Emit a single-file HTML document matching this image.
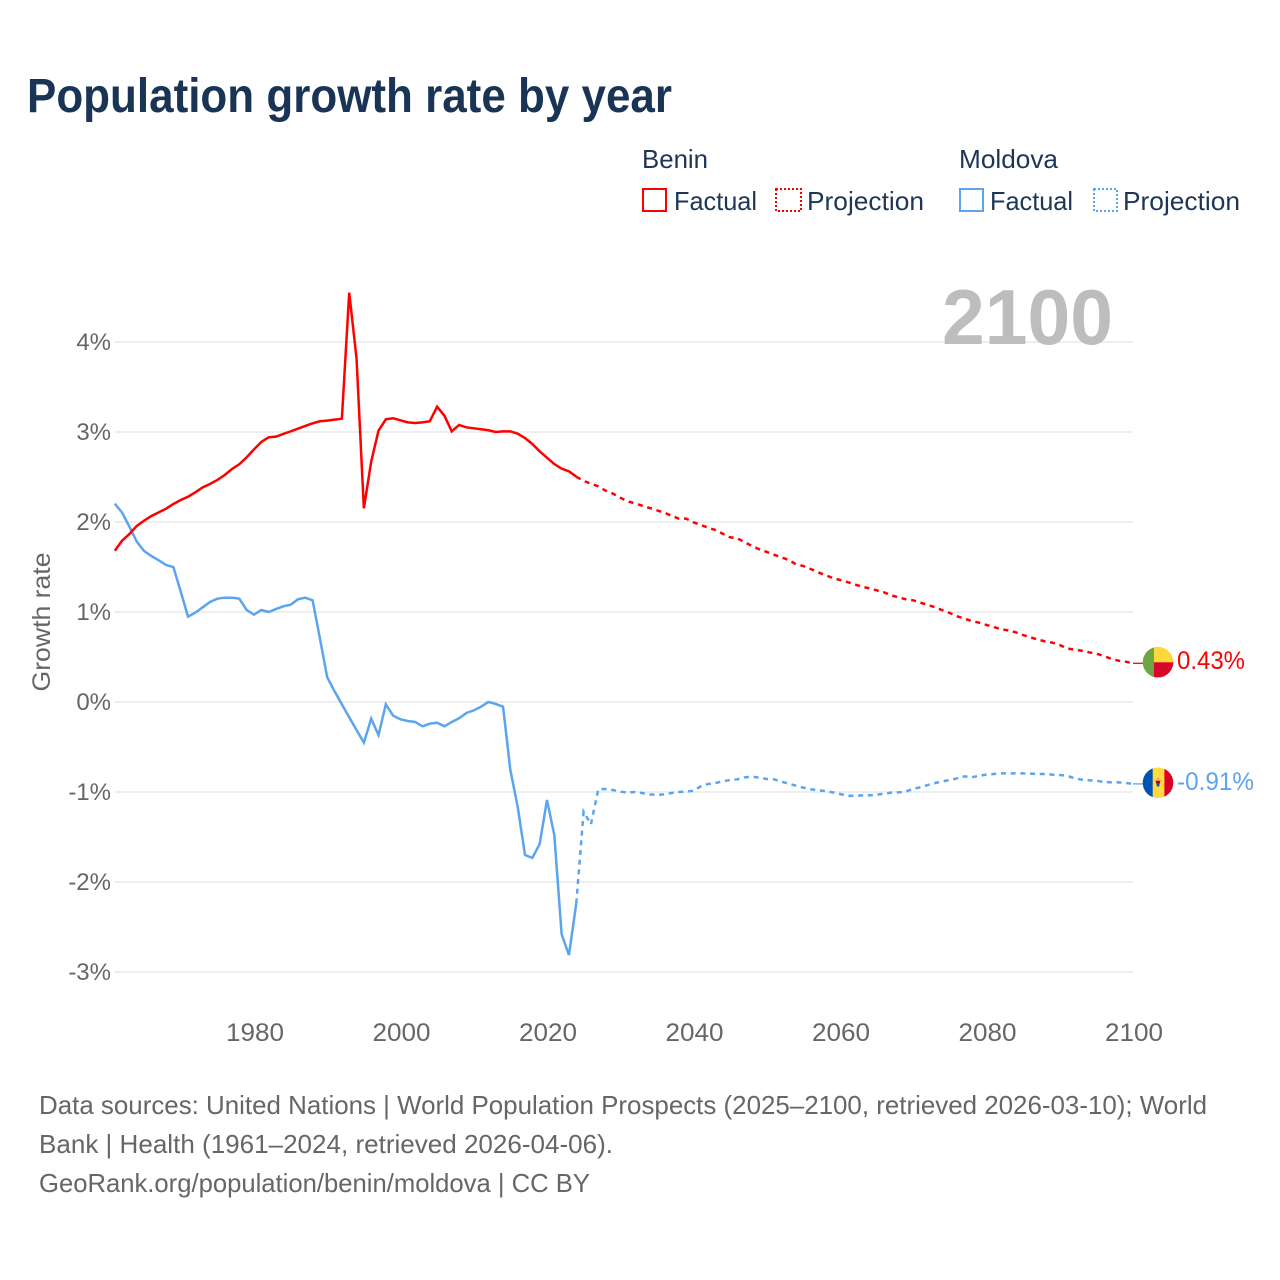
<!DOCTYPE html>
<html lang="en">
<head>
<meta charset="utf-8">
<title>Population growth rate by year</title>
<style>
html,body{margin:0;padding:0;background:#fff;}
svg{display:block;font-family:"Liberation Sans",sans-serif;}
</style>
</head>
<body>
<svg id="chart" xmlns="http://www.w3.org/2000/svg" width="1280" height="1280" viewBox="0 0 1280 1280">
  <defs>
    <clipPath id="flag-clip-benin"><circle cx="1158" cy="662.2" r="15.3"/></clipPath>
    <clipPath id="flag-clip-moldova"><circle cx="1158" cy="782.8" r="15.3"/></clipPath>
  </defs>
  <rect width="1280" height="1280" fill="#fff"/>
  <text x="27" y="112" font-size="48" font-weight="700" fill="#1a3455" textLength="645" lengthAdjust="spacingAndGlyphs">Population growth rate by year</text>

  <g font-size="26" fill="#1e3655">
    <text x="642" y="168" textLength="66" lengthAdjust="spacingAndGlyphs">Benin</text>
    <rect x="643" y="189" width="23" height="22" fill="none" stroke="#ff0000" stroke-width="2"/>
    <text x="674" y="210" textLength="83" lengthAdjust="spacingAndGlyphs">Factual</text>
    <rect x="776" y="189" width="25" height="22" fill="none" stroke="#ff0000" stroke-width="2" stroke-dasharray="2 2"/>
    <text x="807" y="210" textLength="117" lengthAdjust="spacingAndGlyphs">Projection</text>
    <text x="959" y="168" textLength="99" lengthAdjust="spacingAndGlyphs">Moldova</text>
    <rect x="960" y="189" width="23" height="22" fill="none" stroke="#5ba4ee" stroke-width="2"/>
    <text x="990" y="210" textLength="83" lengthAdjust="spacingAndGlyphs">Factual</text>
    <rect x="1094" y="189" width="23" height="22" fill="none" stroke="#5ba4ee" stroke-width="2" stroke-dasharray="2 2"/>
    <text x="1123" y="210" textLength="117" lengthAdjust="spacingAndGlyphs">Projection</text>
  </g>

  <g id="grid"></g>
  <text x="942" y="344" font-size="78" font-weight="700" fill="#bdbdbd" textLength="171" lengthAdjust="spacingAndGlyphs">2100</text>
  <g id="y-ticks" font-size="24" fill="#666" text-anchor="end"></g>
  <g id="x-ticks" font-size="25" fill="#666" text-anchor="middle"></g>
  <text transform="translate(50,622) rotate(-90)" font-size="25" fill="#666" text-anchor="middle" textLength="139" lengthAdjust="spacingAndGlyphs">Growth rate</text>
  <g id="series"></g>

  <g clip-path="url(#flag-clip-benin)">
    <rect x="1142" y="646" width="32" height="32" fill="#fcd83a"/>
    <rect x="1154" y="662.3" width="20" height="16" fill="#d8062a"/>
    <rect x="1142" y="646" width="12" height="32" fill="#6da544"/>
  </g>
  <text x="1177" y="669" font-size="25" fill="#ff0000" textLength="68" lengthAdjust="spacingAndGlyphs">0.43%</text>

  <g clip-path="url(#flag-clip-moldova)">
    <rect x="1142" y="767" width="32" height="32" fill="#ffda44"/>
    <rect x="1142" y="767" width="10.7" height="32" fill="#0052b4"/>
    <rect x="1164.4" y="767" width="10" height="32" fill="#d80027"/>
    <polygon points="1158,777 1159.500,780 1162,780 1160,782.500 1158,788 1156,782.500 1154,780 1156.500,780" fill="#e8a33a"/>
    <rect x="1156" y="781" width="4" height="2.500" fill="#a2001d"/>
    <circle cx="1158" cy="785" r="1.500" fill="#0052b4"/>
  </g>
  <text x="1177" y="790" font-size="25" fill="#5ba4ee" textLength="77" lengthAdjust="spacingAndGlyphs">-0.91%</text>

  <g font-size="26" fill="#666">
    <text x="39" y="1114" textLength="1168" lengthAdjust="spacingAndGlyphs">Data sources: United Nations | World Population Prospects (2025–2100, retrieved 2026-03-10); World</text>
    <text x="39" y="1153" textLength="574" lengthAdjust="spacingAndGlyphs">Bank | Health (1961–2024, retrieved 2026-04-06).</text>
    <text x="39" y="1192" textLength="551" lengthAdjust="spacingAndGlyphs">GeoRank.org/population/benin/moldova | CC BY</text>
  </g>
</svg>
<script>
const factualFirstYear = 1961;
const projectionFirstYear = 2025;
const yTickValues = [4, 3, 2, 1, 0, -1, -2, -3];
const yTickLabels = ["4%", "3%", "2%", "1%", "0%", "-1%", "-2%", "-3%"];
const xTickValues = [1980, 2000, 2020, 2040, 2060, 2080, 2100];
const xTickLabels = ["1980", "2000", "2020", "2040", "2060", "2080", "2100"];

const beninFactual = [1.681,1.793,1.867,1.956,2.015,2.067,2.107,2.148,2.2,2.244,2.281,2.33,2.385,2.422,2.467,2.522,2.589,2.641,2.719,2.807,2.889,2.941,2.948,2.978,3.007,3.037,3.067,3.096,3.119,3.126,3.137,3.148,4.548,3.819,2.152,2.67,3.015,3.141,3.152,3.13,3.107,3.1,3.107,3.119,3.281,3.181,3.007,3.078,3.052,3.041,3.03,3.019,3.0,3.007,3.007,2.981,2.933,2.867,2.785,2.715,2.644,2.593,2.563,2.504];
const beninProjection = [2.456,2.426,2.396,2.348,2.315,2.27,2.23,2.207,2.181,2.156,2.13,2.104,2.07,2.037,2.037,1.996,1.967,1.937,1.911,1.87,1.83,1.819,1.774,1.733,1.696,1.667,1.637,1.607,1.578,1.53,1.511,1.478,1.441,1.411,1.378,1.356,1.333,1.307,1.281,1.263,1.241,1.219,1.185,1.163,1.141,1.13,1.104,1.078,1.052,1.019,0.989,0.952,0.926,0.9,0.881,0.856,0.833,0.808,0.796,0.774,0.744,0.719,0.693,0.674,0.659,0.633,0.596,0.581,0.57,0.552,0.537,0.511,0.481,0.459,0.448,0.43];
const moldovaFactual = [2.204,2.104,1.948,1.781,1.678,1.622,1.574,1.522,1.5,1.226,0.948,0.993,1.052,1.111,1.148,1.159,1.159,1.148,1.022,0.97,1.022,1.0,1.033,1.063,1.081,1.141,1.159,1.13,0.707,0.274,0.119,-0.026,-0.17,-0.311,-0.452,-0.185,-0.367,-0.026,-0.152,-0.193,-0.211,-0.222,-0.27,-0.241,-0.23,-0.27,-0.222,-0.181,-0.122,-0.093,-0.052,0,-0.022,-0.052,-0.756,-1.163,-1.7,-1.733,-1.578,-1.089,-1.478,-2.581,-2.811,-2.237];
const moldovaProjection = [-1.219,-1.359,-0.97,-0.967,-0.978,-0.996,-1.007,-1.0,-1.011,-1.026,-1.033,-1.026,-1.011,-1.0,-0.996,-0.985,-0.937,-0.911,-0.9,-0.881,-0.867,-0.859,-0.837,-0.83,-0.841,-0.856,-0.859,-0.885,-0.907,-0.93,-0.952,-0.97,-0.981,-0.989,-1.004,-1.022,-1.041,-1.044,-1.037,-1.037,-1.03,-1.019,-1.007,-1.004,-0.996,-0.963,-0.948,-0.922,-0.9,-0.881,-0.867,-0.848,-0.826,-0.837,-0.819,-0.807,-0.8,-0.793,-0.793,-0.793,-0.793,-0.796,-0.8,-0.8,-0.807,-0.811,-0.819,-0.848,-0.863,-0.87,-0.874,-0.889,-0.893,-0.893,-0.9,-0.91];

const SVG_NS = "http://www.w3.org/2000/svg";
const plotLeft = 114.8, plotRight = 1133, yearMin = 1961, yearMax = 2100;
const zeroY = 702, pxPerPercent = 90;

function xScale(year) {
  return plotLeft + (year - yearMin) * (plotRight - plotLeft) / (yearMax - yearMin);
}
function yScale(value) {
  return zeroY - value * pxPerPercent;
}
function linePath(firstYear, values) {
  return values.map(function (v, i) {
    return (i ? "L" : "M") + xScale(firstYear + i).toFixed(2) + " " + yScale(v).toFixed(2);
  }).join("");
}
function drawLine(name, firstYear, values, color, dashed) {
  const p = document.createElementNS(SVG_NS, "path");
  
  
  p.setAttribute("d", linePath(firstYear, values));
  p.setAttribute("fill", "none");
  p.setAttribute("stroke", color);
  p.setAttribute("stroke-width", "2.5");
  p.setAttribute("stroke-linejoin", "miter");
  if (dashed) p.setAttribute("stroke-dasharray", "5 4.7");
  document.getElementById("series").appendChild(p);
}
function drawLeader(name, lastValue, color) {
  const l = document.createElementNS(SVG_NS, "line");
  
  
  l.setAttribute("x1", xScale(yearMax));
  l.setAttribute("x2", xScale(yearMax) + 10);
  l.setAttribute("y1", yScale(lastValue));
  l.setAttribute("y2", yScale(lastValue));
  l.setAttribute("stroke", color);
  l.setAttribute("stroke-width", "1.3");
  document.getElementById("series").appendChild(l);
}

yTickValues.forEach(function (v, i) {
  const g = document.createElementNS(SVG_NS, "line");
  
  
  g.setAttribute("x1", plotLeft);
  g.setAttribute("x2", plotRight);
  g.setAttribute("y1", yScale(v));
  g.setAttribute("y2", yScale(v));
  g.setAttribute("stroke", "#eeeeee");
  g.setAttribute("stroke-width", "2");
  document.getElementById("grid").appendChild(g);

  const t = document.createElementNS(SVG_NS, "text");
  
  
  t.setAttribute("x", 111);
  t.setAttribute("y", yScale(v) + 8);
  t.textContent = yTickLabels[i];
  document.getElementById("y-ticks").appendChild(t);
});

xTickValues.forEach(function (v, i) {
  const t = document.createElementNS(SVG_NS, "text");
  
  
  t.setAttribute("x", xScale(v) + 1);
  t.setAttribute("y", 1041);
  t.setAttribute("textLength", "58");
  t.setAttribute("lengthAdjust", "spacingAndGlyphs");
  t.textContent = xTickLabels[i];
  document.getElementById("x-ticks").appendChild(t);
});

drawLine("line-moldova-factual", factualFirstYear, moldovaFactual, "#5ba4ee", false);
drawLine("line-moldova-projection", projectionFirstYear - 1, moldovaFactual.slice(-1).concat(moldovaProjection), "#5ba4ee", true);
drawLine("line-benin-factual", factualFirstYear, beninFactual, "#ff0000", false);
drawLine("line-benin-projection", projectionFirstYear - 1, beninFactual.slice(-1).concat(beninProjection), "#ff0000", true);
drawLeader("leader-benin", beninProjection[beninProjection.length - 1], "#ff0000");
drawLeader("leader-moldova", moldovaProjection[moldovaProjection.length - 1], "#5ba4ee");
</script>
</body>
</html>
